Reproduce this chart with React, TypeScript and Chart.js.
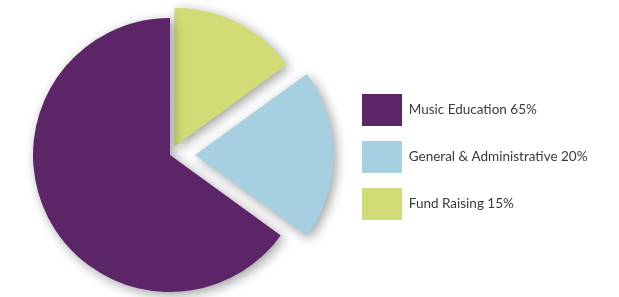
import { useEffect, useRef } from 'react';
import { Chart, registerables } from 'chart.js';

Chart.register(...registerables);

// Clockwise from 12 o'clock; the legend lists them in reverse.
const categories = ['Fund Raising 15%', 'General & Administrative 20%', 'Music Education 65%'];
const values = [15, 20, 65];
const colors = ['#d1dc76', '#a7cfe2', '#5b2568'];
// Chart.js moves an arc by offset / 4 pixels
const sliceOffsets = [38, 100, 0];

const FONT_FAMILY = 'Lato';
const FONT_SIZE = 13.5;
const CANVAS_W = 626;
const CANVAS_H = 297;
const LEGEND_LEFT = 354; // canvas coordinate where legend box starts
const BOX_W = 40;
const LABEL_PAD = 15;

const shadowPlugin = {
  id: 'sliceShadow',
  beforeDatasetsDraw(chart: any) {
    const ctx = chart.ctx;
    ctx.save();
    ctx.shadowColor = 'rgba(0,0,0,0.38)';
    ctx.shadowBlur = 12;
    ctx.shadowOffsetX = 3;
    ctx.shadowOffsetY = 3;
  },
  afterDatasetsDraw(chart: any) {
    chart.ctx.restore();
  },
};

export default function App() {
  const ref = useRef<HTMLCanvasElement>(null);
  useEffect(() => {
    if (!ref.current) return;
    const mctx = ref.current.getContext('2d')!;
    mctx.font = `${FONT_SIZE}px ${FONT_FAMILY}`;
    const maxText = Math.max(...categories.map((c) => mctx.measureText(c).width));
    const legendWidth = LABEL_PAD + BOX_W + FONT_SIZE / 2 + maxText + 10;
    const rightPad = Math.max(0, CANVAS_W - LEGEND_LEFT - legendWidth);

    const chart = new Chart(ref.current, {
      type: 'pie',
      data: {
        labels: categories,
        datasets: [
          {
            data: values,
            backgroundColor: colors,
            borderWidth: 0,
            offset: sliceOffsets,
            hoverOffset: 0,
          },
        ],
      },
      options: {
        animation: false,
        responsive: false,
        events: [],
        radius: 137,
        rotation: 0,
        layout: { padding: { left: 0, right: rightPad, top: 13, bottom: 0 } },
        plugins: {
          tooltip: { enabled: false },
          legend: {
            position: 'right',
            reverse: true,
            title: { display: true, text: '', padding: 0, font: { size: 1, lineHeight: 4 } },
            labels: {
              boxWidth: BOX_W,
              boxHeight: 32,
              padding: LABEL_PAD,
              color: '#3a3a3a',
              font: { family: FONT_FAMILY, size: FONT_SIZE },
            },
          },
        },
      } as any,
      plugins: [shadowPlugin],
    });
    return () => chart.destroy();
  }, []);
  return (
    <div style={{ position: 'absolute', left: -7, top: 0, width: CANVAS_W, height: CANVAS_H }}>
      <canvas ref={ref} width={CANVAS_W} height={CANVAS_H} style={{ width: CANVAS_W, height: CANVAS_H, display: 'block' }} />
    </div>
  );
}
